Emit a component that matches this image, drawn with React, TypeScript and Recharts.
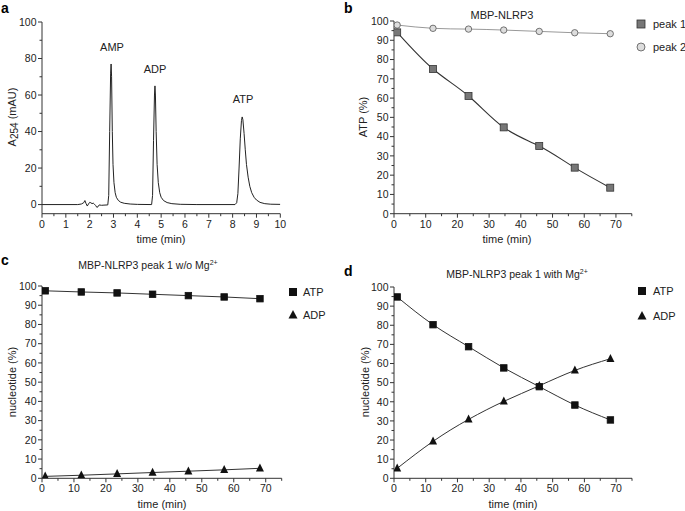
import React from 'react';
import { LineChart, Line, XAxis, YAxis } from 'recharts';

// panel a: chromatogram (time in min, A254 in mAU)
const chromTime = [
  0, 1.5, 1.65, 1.75, 1.8, 1.85, 1.9, 1.95, 2.0, 2.05, 2.1, 2.15, 2.2, 2.25, 2.3, 2.35, 2.4, 2.5, 2.6, 2.76,
  2.8, 2.84, 2.88, 2.9, 2.92, 2.95, 2.98, 3.02, 3.07, 3.12, 3.2, 3.3, 3.45, 3.7, 4.0,
  4.6, 4.64, 4.68, 4.72, 4.74, 4.76, 4.79, 4.83, 4.88, 4.94, 5.0, 5.1, 5.25, 5.45, 5.8, 6.5,
  8.1, 8.17, 8.22, 8.27, 8.32, 8.37, 8.4, 8.43, 8.48, 8.53, 8.58, 8.65, 8.72, 8.8, 8.9, 9.0, 9.15, 9.35, 9.6, 10,
];
const chromAbs = [
  0, 0, 0.3, 1, 2.2, 0.5, -0.8, 0.3, 1.2, 1, 0.5, 0.8, 0.2, -0.5, -1.5, -1.2, -0.2, -0.4, -0.3, -0.2,
  5, 40, 72, 77, 70, 40, 22, 12, 6.5, 4, 2.3, 1.3, 0.7, 0.3, 0.1,
  0, 5, 35, 60, 65, 60, 40, 22, 12, 6.5, 4, 2.2, 1.1, 0.5, 0.15, 0,
  0, 1, 6, 20, 36, 46, 48, 46.5, 39, 30, 22, 15, 10, 6.5, 4, 2.5, 1.2, 0.5, 0.2, 0.1,
];
const chromXTicks = [0, 0.5, 1, 1.5, 2, 2.5, 3, 3.5, 4, 4.5, 5, 5.5, 6, 6.5, 7, 7.5, 8, 8.5, 9, 9.5, 10];
const chromYTicks = [0, 10, 20, 30, 40, 50, 60, 70, 80, 90, 100];

// panels b-d: sampling times (min)
const sampleTime = [1, 12.3, 23.5, 34.6, 45.8, 57, 68.2];
const peak1Atp = [94.1, 75.1, 61.1, 44.8, 35.1, 23.9, 13.5];
const peak2Atp = [97.9, 96.2, 95.8, 95.3, 94.6, 93.9, 93.4];
const atpNoMg = [97.5, 96.9, 96.4, 95.7, 95, 94.3, 93.4];
const adpNoMg = [1, 1.6, 2.3, 3, 3.7, 4.4, 5.2];
const atpMg = [94.8, 80.3, 68.8, 57.7, 47.9, 38.3, 30.5];
const adpMg = [5.2, 19.3, 30.8, 40.2, 48.4, 56.4, 62.5];
const timeTicks = [0, 5, 10, 15, 20, 25, 30, 35, 40, 45, 50, 55, 60, 65, 70, 75];
const pctTicks = [0, 5, 10, 15, 20, 25, 30, 35, 40, 45, 50, 55, 60, 65, 70, 75, 80, 85, 90, 95, 100];

const FONT = '"Liberation Sans", Arial, sans-serif';
const INK = '#333';
const TXT = '#222';

const chromData = chromTime.map((t, i) => ({ t, a: chromAbs[i] }));
const bData = sampleTime.map((t, i) => ({ t, p1: peak1Atp[i], p2: peak2Atp[i] }));
const cData = sampleTime.map((t, i) => ({ t, atp: atpNoMg[i], adp: adpNoMg[i] }));
const dData = sampleTime.map((t, i) => ({ t, atp: atpMg[i], adp: adpMg[i] }));

const xTick = (isMajor: (v: number) => boolean) => (props: any) => {
  const { x, y, payload } = props;
  const major = isMajor(payload.value);
  return (
    <g>
      <line x1={x} x2={x} y1={y} y2={y + (major ? 4 : 2.5)} stroke={INK} />
      {major && (
        <text x={x} y={y + 14} textAnchor="middle" fontSize={10.5} fontFamily={FONT} fill={TXT}>
          {payload.value}
        </text>
      )}
    </g>
  );
};

const yTick = (isMajor: (v: number) => boolean) => (props: any) => {
  const { x, y, payload } = props;
  const major = isMajor(payload.value);
  return (
    <g>
      <line x1={x} x2={x - (major ? 4 : 2.5)} y1={y} y2={y} stroke={INK} />
      {major && (
        <text x={x - 5.5} y={y + 3.8} textAnchor="end" fontSize={10.5} fontFamily={FONT} fill={TXT}>
          {payload.value}
        </text>
      )}
    </g>
  );
};

const squareDot = (size: number, fill: string, stroke: string) => (props: any) => {
  const { cx, cy, index } = props;
  return <rect key={index} x={cx - size / 2} y={cy - size / 2} width={size} height={size} fill={fill} stroke={stroke} strokeWidth={0.8} />;
};

const circleDot = (r: number, fill: string, stroke: string) => (props: any) => {
  const { cx, cy, index } = props;
  return <circle key={index} cx={cx} cy={cy} r={r} fill={fill} stroke={stroke} strokeWidth={0.8} />;
};

const triangleDot = (s: number, fill: string) => (props: any) => {
  const { cx, cy, index } = props;
  const pts = `${cx},${cy - s * 0.6} ${cx - s / 2},${cy + s * 0.4} ${cx + s / 2},${cy + s * 0.4}`;
  return <polygon key={index} points={pts} fill={fill} />;
};

const by10 = (v: number) => v % 10 === 0;

const axisCommon = {
  tickSize: 0,
  tickMargin: 0,
  tickLine: false,
  axisLine: { stroke: INK },
  interval: 0 as const,
  allowDataOverflow: true,
};

export default function App() {
  return (
    <div style={{ position: 'absolute', left: 0, top: 0, width: 685, height: 511, background: '#fff', fontFamily: FONT }}>
      {/* a */}
      <div style={{ position: 'absolute', left: 0, top: 0 }}>
        <LineChart width={340} height={250} data={chromData} margin={{ top: 22, right: 59.7, bottom: 6.3, left: 0 }}>
          <XAxis type="number" dataKey="t" domain={[0, 10]} ticks={chromXTicks} height={30} {...axisCommon} tick={xTick((v) => Number.isInteger(v))} />
          <YAxis type="number" domain={[-5, 100]} ticks={chromYTicks} width={42} {...axisCommon} tick={yTick((v) => v % 20 === 0)} />
          <Line dataKey="a" type="linear" stroke="#222" strokeWidth={1} dot={false} isAnimationActive={false} />
        </LineChart>
      </div>
      {/* b */}
      <div style={{ position: 'absolute', left: 340, top: 0 }}>
        <LineChart width={345} height={250} data={bData} margin={{ top: 21, right: 53.2, bottom: 6.3, left: 0 }}>
          <XAxis type="number" dataKey="t" domain={[0, 75]} ticks={timeTicks} height={30} {...axisCommon} tick={xTick(by10)} />
          <YAxis type="number" domain={[0, 100]} ticks={pctTicks} width={54} {...axisCommon} tick={yTick(by10)} />
          <Line dataKey="p2" type="natural" stroke="#999" strokeWidth={1} dot={circleDot(3.2, '#ddd', '#555')} isAnimationActive={false} />
          <Line dataKey="p1" type="natural" stroke="#333" strokeWidth={1.1} dot={squareDot(7, '#777', '#333')} isAnimationActive={false} />
        </LineChart>
      </div>
      {/* c */}
      <div style={{ position: 'absolute', left: 0, top: 250 }}>
        <LineChart width={340} height={261} data={cData} margin={{ top: 36, right: 58.3, bottom: 2.7, left: 0 }}>
          <XAxis type="number" dataKey="t" domain={[0, 75]} ticks={timeTicks} height={30} {...axisCommon} tick={xTick(by10)} />
          <YAxis type="number" domain={[0, 100]} ticks={pctTicks} width={42} {...axisCommon} tick={yTick(by10)} />
          <Line dataKey="atp" type="natural" stroke="#333" strokeWidth={1} dot={squareDot(6.5, '#111', '#111')} isAnimationActive={false} />
          <Line dataKey="adp" type="natural" stroke="#333" strokeWidth={1} dot={triangleDot(8, '#111')} isAnimationActive={false} />
        </LineChart>
      </div>
      {/* d */}
      <div style={{ position: 'absolute', left: 340, top: 250 }}>
        <LineChart width={345} height={261} data={dData} margin={{ top: 37, right: 53, bottom: 2.7, left: 0 }}>
          <XAxis type="number" dataKey="t" domain={[0, 75]} ticks={timeTicks} height={30} {...axisCommon} tick={xTick(by10)} />
          <YAxis type="number" domain={[0, 100]} ticks={pctTicks} width={54} {...axisCommon} tick={yTick(by10)} />
          <Line dataKey="atp" type="natural" stroke="#333" strokeWidth={1} dot={squareDot(6.5, '#111', '#111')} isAnimationActive={false} />
          <Line dataKey="adp" type="natural" stroke="#333" strokeWidth={1} dot={triangleDot(8, '#111')} isAnimationActive={false} />
        </LineChart>
      </div>

      <svg width={685} height={511} style={{ position: 'absolute', left: 0, top: 0, pointerEvents: 'none' }} fontFamily={FONT} fill={TXT}>
        {/* panel letters */}
        <text x={1} y={13} fontSize={14} fontWeight="bold" fill="#000">a</text>
        <text x={344} y={13} fontSize={14} fontWeight="bold" fill="#000">b</text>
        <text x={1} y={265} fontSize={14} fontWeight="bold" fill="#000">c</text>
        <text x={344} y={276} fontSize={14} fontWeight="bold" fill="#000">d</text>

        {/* panel a */}
        <text x={112} y={51} fontSize={11} textAnchor="middle">AMP</text>
        <text x={155} y={73} fontSize={11} textAnchor="middle">ADP</text>
        <text x={243} y={103} fontSize={11} textAnchor="middle">ATP</text>
        <text x={161} y={243} fontSize={11} textAnchor="middle">time (min)</text>
        <text transform="translate(16,117) rotate(-90)" fontSize={11} textAnchor="middle">
          A<tspan fontSize={10} dy={2}>254</tspan><tspan dy={-2}> (mAU)</tspan>
        </text>

        {/* panel b */}
        <text x={502} y={18.5} fontSize={11} textAnchor="middle">MBP-NLRP3</text>
        <text x={507} y={243} fontSize={11} textAnchor="middle">time (min)</text>
        <text transform="translate(367,117) rotate(-90)" fontSize={11} textAnchor="middle">ATP (%)</text>
        <rect x={637} y={20} width={8} height={8} fill="#777" stroke="#333" strokeWidth={0.8} />
        <text x={653} y={28} fontSize={11}>peak 1</text>
        <circle cx={641} cy={47} r={4} fill="#ddd" stroke="#555" strokeWidth={0.8} />
        <text x={653} y={51} fontSize={11}>peak 2</text>

        {/* panel c */}
        <text x={148} y={269} fontSize={10.5} textAnchor="middle">
          MBP-NLRP3 peak 1 w/o Mg<tspan fontSize={7} dy={-4}>2+</tspan>
        </text>
        <text x={162} y={508} fontSize={11} textAnchor="middle">time (min)</text>
        <text transform="translate(16,382) rotate(-90)" fontSize={11} textAnchor="middle">nucleotide (%)</text>
        <rect x={289} y={288} width={8} height={8} fill="#111" />
        <text x={303} y={296} fontSize={11}>ATP</text>
        <polygon points="293,310 288.5,318.5 297.5,318.5" fill="#111" />
        <text x={303} y={319} fontSize={11}>ADP</text>

        {/* panel d */}
        <text x={517} y={278} fontSize={10.5} textAnchor="middle">
          MBP-NLRP3 peak 1 with Mg<tspan fontSize={7} dy={-4}>2+</tspan>
        </text>
        <text x={513} y={508} fontSize={11} textAnchor="middle">time (min)</text>
        <text transform="translate(369,382) rotate(-90)" fontSize={11} textAnchor="middle">nucleotide (%)</text>
        <rect x={638} y={287} width={8} height={8} fill="#111" />
        <text x={653} y={295} fontSize={11}>ATP</text>
        <polygon points="642,311 637.5,319.5 646.5,319.5" fill="#111" />
        <text x={653} y={320} fontSize={11}>ADP</text>
      </svg>
    </div>
  );
}
